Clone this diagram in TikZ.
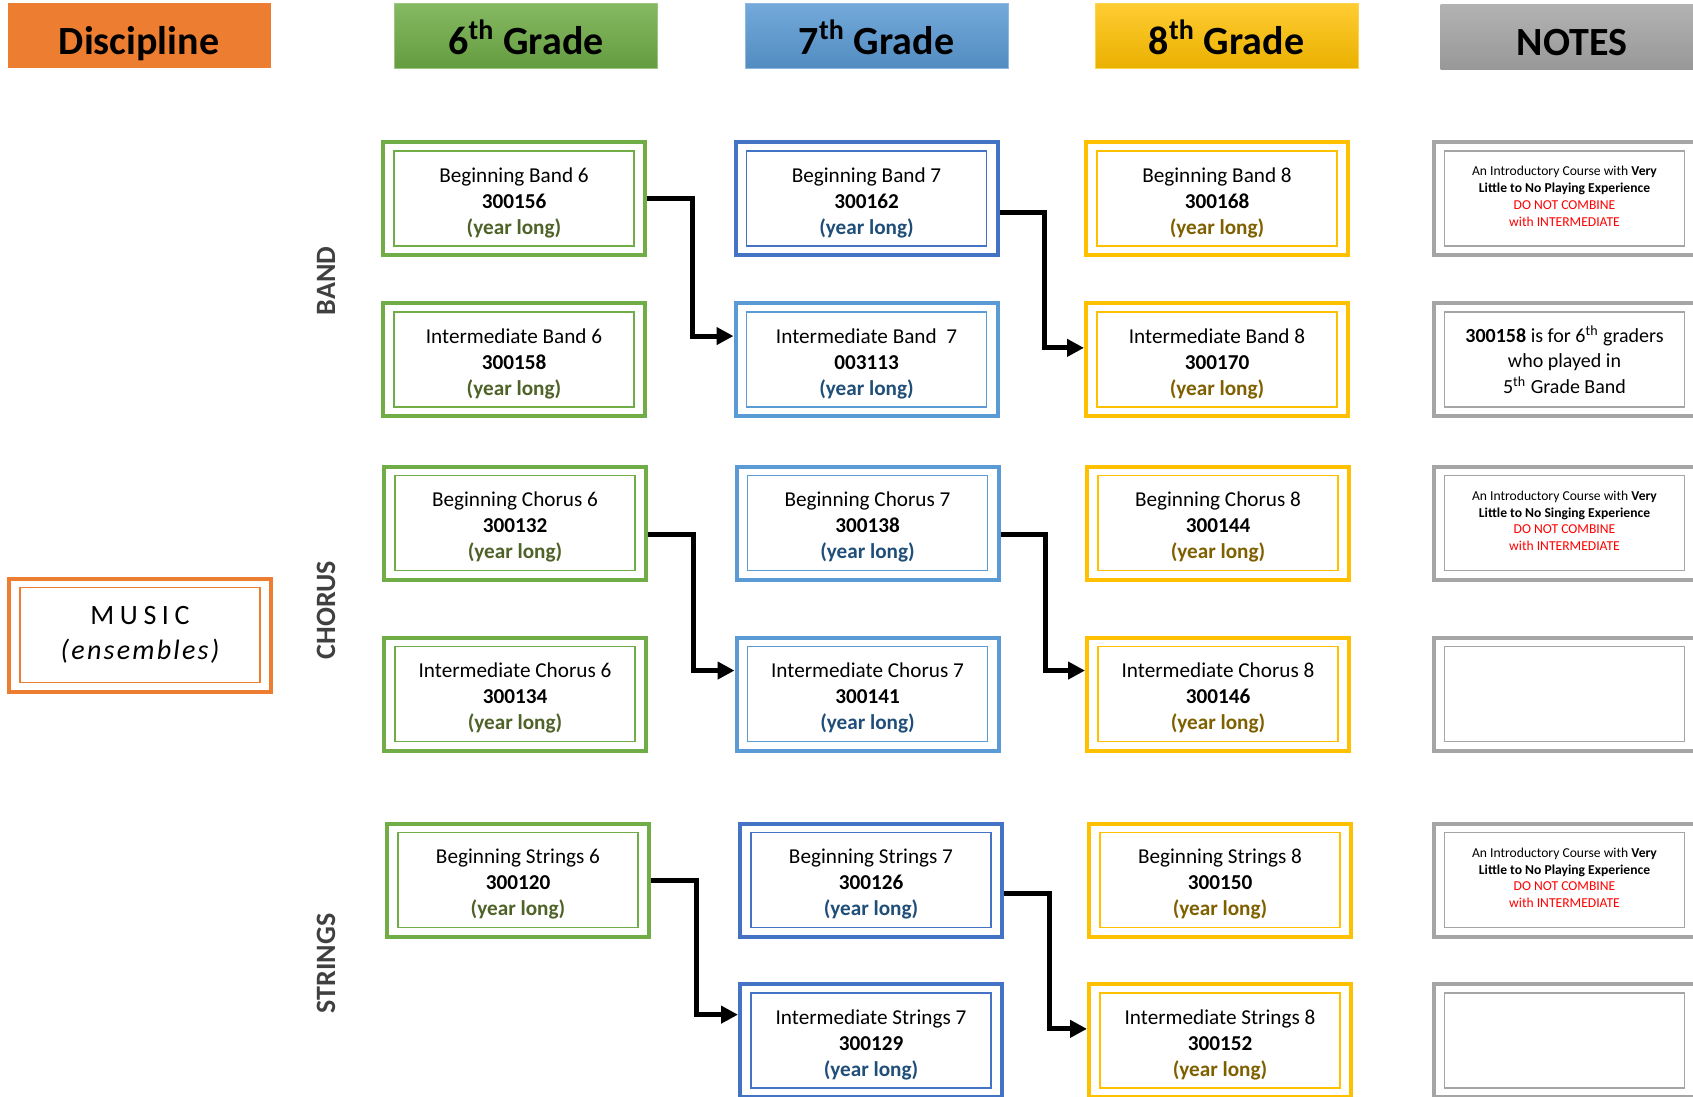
\documentclass[tikz,border=0pt]{standalone}
\usepackage{fontspec}
\setmainfont{Carlito}
\usetikzlibrary{arrows.meta}
\usetikzlibrary{calc}

\definecolor{discorange}{HTML}{ED7D31}
\definecolor{gradegreen}{HTML}{70AD47}
\definecolor{gradeblue}{HTML}{5B9BD5}
\definecolor{darkblue}{HTML}{4472C4}
\definecolor{gradegold}{HTML}{FFC000}
\definecolor{notegray}{HTML}{A5A5A5}
\definecolor{longgreen}{HTML}{4F6228}
\definecolor{longblue}{HTML}{1F4E79}
\definecolor{longgold}{HTML}{7F6000}
\definecolor{sidegray}{HTML}{404040}
\definecolor{notered}{HTML}{FF0000}

\newcommand{\yearlong}[1]{\raisebox{0pt}[\height][0pt]{\textcolor{#1}{\textbf{(year long)}}}}
\newcommand{\coursetext}[3]{\rule{0pt}{9.8pt}#1\\\textbf{#2}\\\yearlong{#3}}
\newcommand{\coursefont}{\fontsize{10.6}{13}\selectfont}
\newcommand{\notefont}{\fontsize{6.8}{8.4}\selectfont}
\newcommand{\nocombine}{\textcolor{notered}{DO NOT COMBINE}\\\textcolor{notered}{with INTERMEDIATE}\rule[-2.2pt]{0pt}{0pt}}

\begin{document}
\begin{tikzpicture}[x=0.5pt,y=0.5pt,yscale=-1,
  course/.style={draw=#1, line width=2pt, minimum width=131pt, minimum height=56.5pt,
    inner sep=0pt, align=center, font=\coursefont,
    append after command={\pgfextra{\draw[#1, line width=0.6pt]
      ($(\tikzlastnode.north west)+(13,11)$) rectangle ($(\tikzlastnode.south east)+(-13,-11)$);}}},
  head/.style={minimum width=131.5pt, minimum height=32.5pt, inner sep=0pt,
    text height=18.5pt, text depth=0pt, font=\fontsize{20}{24}\selectfont\bfseries},
  side/.style={rotate=90, font=\fontsize{14}{16}\selectfont\bfseries, text=sidegray},
  flow/.style={line width=2.5pt, -{Triangle[length=8.5pt,width=8.5pt]}}]
\useasboundingbox (0,0) rectangle (1693,1097);
\clip (0,0) rectangle (1693,1097);

% Header Nodes
\node[head, fill=discorange] (hdisc) at (139,35.6) {Discipline};
\node[head, draw=gradegreen!70!white, line width=0.5pt, top color=gradegreen!85!white, bottom color=gradegreen!90!black] (hsix) at (526,35.6) {6\textsuperscript{th} Grade};
\node[head, draw=gradeblue!70!white, line width=0.5pt, top color=gradeblue!85!white, bottom color=gradeblue!90!black] (hseven) at (876.5,35.6) {7\textsuperscript{th} Grade};
\node[head, draw=gradegold!70!white, line width=0.5pt, top color=gradegold!80!white, bottom color=gradegold!92!black] (height) at (1226.5,35.6) {8\textsuperscript{th} Grade};
\node[head, top color=notegray!85!white, bottom color=notegray!92!black] (hnotes) at (1572,37) {NOTES};

% Discipline
\node[course=discorange, font=\fontsize{14}{17.5}\selectfont] (music) at (140,635) {{\addfontfeatures{LetterSpace=20}MUSIC}\\{\itshape\addfontfeatures{LetterSpace=8}(ensembles)}};

% Side labels
\node[side] (lband) at (326,281) {BAND};
\node[side] (lchorus) at (326,610) {CHORUS};
\node[side] (lstrings) at (326,963.5) {STRINGS};

% Band
\node[course=gradegreen] (bb6) at (514,198.5) {\coursetext{Beginning Band 6}{300156}{longgreen}};
\node[course=gradegreen] (ib6) at (514,359.5) {\coursetext{Intermediate Band 6}{300158}{longgreen}};
\node[course=darkblue] (bb7) at (866.5,198.5) {\coursetext{Beginning Band 7}{300162}{longblue}};
\node[course=gradeblue] (ib7) at (866.5,359.5) {\coursetext{Intermediate Band~ 7}{003113}{longblue}};
\node[course=gradegold] (bb8) at (1217,198.5) {\coursetext{Beginning Band 8}{300168}{longgold}};
\node[course=gradegold] (ib8) at (1217,359.5) {\coursetext{Intermediate Band 8}{300170}{longgold}};
\node[course=notegray, font=\notefont] (nb1) at (1564.5,198.5) {An Introductory Course with \textbf{Very}\\\textbf{Little to No Playing Experience}\\\nocombine};
\node[course=notegray, font=\fontsize{10}{12.8}\selectfont] (nb2) at (1564.5,359.5) {\textbf{300158} is for 6\textsuperscript{th} graders\\who played in\\5\textsuperscript{th} Grade Band};

% Chorus
\node[course=gradegreen] (bc6) at (515,523) {\coursetext{Beginning Chorus 6}{300132}{longgreen}};
\node[course=gradegreen] (ic6) at (515,694) {\coursetext{Intermediate Chorus 6}{300134}{longgreen}};
\node[course=gradeblue] (bc7) at (867.5,523) {\coursetext{Beginning Chorus 7}{300138}{longblue}};
\node[course=gradeblue] (ic7) at (867.5,694) {\coursetext{Intermediate Chorus 7}{300141}{longblue}};
\node[course=gradegold] (bc8) at (1218,523) {\coursetext{Beginning Chorus 8}{300144}{longgold}};
\node[course=gradegold] (ic8) at (1218,694) {\coursetext{Intermediate Chorus 8}{300146}{longgold}};
\node[course=notegray, font=\notefont] (nc1) at (1564.5,523) {An Introductory Course with \textbf{Very}\\\textbf{Little to No Singing Experience}\\\nocombine};
\node[course=notegray] (nc2) at (1564.5,694) {};

% Strings
\node[course=gradegreen] (bs6) at (518,880) {\coursetext{Beginning Strings 6}{300120}{longgreen}};
\node[course=darkblue] (bs7) at (871,880) {\coursetext{Beginning Strings 7}{300126}{longblue}};
\node[course=darkblue] (is7) at (871,1040.5) {\coursetext{Intermediate Strings 7}{300129}{longblue}};
\node[course=gradegold] (bs8) at (1220,880) {\coursetext{Beginning Strings 8}{300150}{longgold}};
\node[course=gradegold] (is8) at (1220,1040.5) {\coursetext{Intermediate Strings 8}{300152}{longgold}};
\node[course=notegray, font=\notefont] (ns1) at (1564.5,880) {An Introductory Course with \textbf{Very}\\\textbf{Little to No Playing Experience}\\\nocombine};
\node[course=notegray] (ns2) at (1564.5,1040.5) {};

%Connectors
\draw[flow] (bb6.east) -- ++(45,0) |- (ib7.170);
\draw[flow] (bb7.-6) -- ++(45,0) |- (ib8.175);
\draw[flow] (bc6.-5) -- ++(45,0) |- (ic7.170);
\draw[flow] (bc7.-5) -- ++(45,0) |- (ic8.170);
\draw[flow] (bs6.east) -- ++(45,0) |- (is7.169);
\draw[flow] (bs7.-6) -- ++(45,0) |- (is8.175);

\end{tikzpicture}
\end{document}
